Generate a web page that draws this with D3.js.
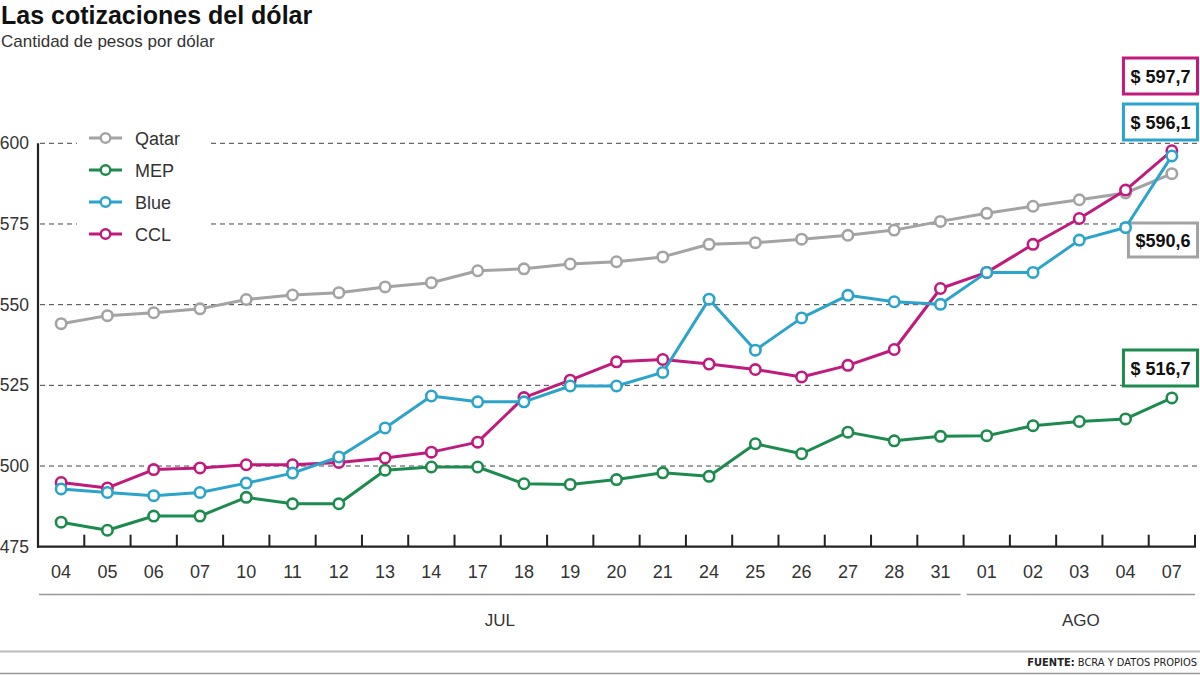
<!DOCTYPE html>
<html><head><meta charset="utf-8">
<script src="https://cdn.jsdelivr.net/npm/d3@7"></script>
<style>
html,body{margin:0;padding:0;background:#fff;overflow:hidden;}
svg{display:block;font-family:"Liberation Sans",Arial,sans-serif;}
</style></head>
<body>
<svg id="chart" width="1200" height="675"></svg>
<script>
// ---- data ----
const days = ["04","05","06","07","10","11","12","13","14","17","18","19","20","21","24","25","26","27","28","31","01","02","03","04","07"];
const months = ["JUL","JUL","JUL","JUL","JUL","JUL","JUL","JUL","JUL","JUL","JUL","JUL","JUL","JUL","JUL","JUL","JUL","JUL","JUL","JUL","AGO","AGO","AGO","AGO","AGO"];
const qatar = [544.1,546.6,547.5,548.7,551.6,553.0,553.7,555.5,556.8,560.5,561.1,562.6,563.3,564.8,568.7,569.2,570.3,571.5,573.1,575.8,578.3,580.5,582.5,584.6,590.6];
const mep   = [482.6,480.1,484.5,484.5,490.3,488.3,488.3,498.7,499.7,499.7,494.5,494.3,495.8,497.9,496.8,506.9,503.8,510.5,507.8,509.2,509.4,512.5,513.8,514.6,521.1];
const blue  = [492.9,491.8,490.8,491.8,494.7,497.8,502.8,511.8,521.7,519.9,519.9,524.8,524.8,529.0,551.7,535.9,545.9,552.9,550.9,550.1,560.0,560.0,570.0,573.9,596.1];
const ccl   = [494.9,493.2,498.9,499.4,500.4,500.4,501.1,502.5,504.3,507.4,521.2,526.6,532.3,533.0,531.6,529.9,527.6,531.2,536.1,555.0,560.0,568.7,576.7,585.5,597.7];
const seriesNames = ["Qatar","MEP","Blue","CCL"];
const seriesColors = ["#a3a3a3","#1d8b4d","#2ba4cb","#c01a7c"];
const yTicks = [475,500,525,550,575,600];
const yTickLabels = ["475","500","525","550","575","600"];
const endLabels = ["$590,6","$ 516,7","$ 596,1","$ 597,7"];
const title = "Las cotizaciones del dólar";
const subtitle = "Cantidad de pesos por dólar";
const source = "BCRA Y DATOS PROPIOS";

// ---- layout ----
const svg = d3.select("#chart");
const pLeft = 38, pRight = 1195, pTop = 143.3, pBottom = 546.7;
const idx = days.map((d,i)=>i);
const x = d3.scalePoint().domain(idx).range([pLeft,pRight]).padding(0.5);
const step = x.step();
const y = d3.scaleLinear().domain([475,600]).range([pBottom,pTop]);

// title
svg.append("text").attr("x",1).attr("y",24).attr("font-size",25).attr("font-weight","bold").attr("fill","#111").text(title);
svg.append("text").attr("x",1).attr("y",47).attr("font-size",17).attr("fill","#333").text(subtitle);

// gridlines
svg.append("g").selectAll("line").data(yTicks.filter(v=>v>475)).join("line")
  .attr("x1",pLeft+2).attr("x2",1200).attr("y1",d=>y(d)).attr("y2",d=>y(d))
  .attr("stroke","#444").attr("stroke-width",1).attr("stroke-dasharray","5,4");

// y labels
svg.append("g").selectAll("text").data(yTicks).join("text")
  .attr("x",29).attr("y",d=>y(d)+6).attr("text-anchor","end").attr("font-size",17.5).attr("fill","#333")
  .text((d,i)=>yTickLabels[i]);

// axes
svg.append("line").attr("x1",pLeft).attr("x2",pLeft).attr("y1",pTop).attr("y2",pBottom+1).attr("stroke","#222").attr("stroke-width",2.2);
svg.append("line").attr("x1",pLeft-1).attr("x2",pRight+1).attr("y1",pBottom).attr("y2",pBottom).attr("stroke","#222").attr("stroke-width",2.2);
const tickXs = idx.map(i=>x(i)+step/2);
svg.append("g").selectAll("line").data(tickXs).join("line")
  .attr("x1",d=>d).attr("x2",d=>d).attr("y1",pBottom).attr("y2",pBottom-12)
  .attr("stroke","#222").attr("stroke-width",2);

// x labels
svg.append("g").selectAll("text").data(idx).join("text")
  .attr("x",i=>x(i)).attr("y",578).attr("text-anchor","middle").attr("font-size",18).attr("fill","#333")
  .text(i=>days[i]);

// month groups
const monthGroups = d3.groups(idx, i=>months[i]);
monthGroups.forEach(([m,list],k)=>{
  const x0 = x(list[0]) - step/2 + (k===0?1:3);
  const x1 = x(list[list.length-1]) + step/2 - (k===monthGroups.length-1?0:3);
  svg.append("line").attr("x1",x0).attr("x2",x1).attr("y1",594.5).attr("y2",594.5).attr("stroke","#999").attr("stroke-width",1.5);
  svg.append("text").attr("x",(x0+x1)/2).attr("y",626).attr("text-anchor","middle").attr("font-size",17).attr("fill","#333").text(m);
});

// footer
svg.append("line").attr("x1",0).attr("x2",1200).attr("y1",651.5).attr("y2",651.5).attr("stroke","#bbb").attr("stroke-width",2);
svg.append("line").attr("x1",0).attr("x2",1200).attr("y1",673.5).attr("y2",673.5).attr("stroke","#999").attr("stroke-width",1.5);
const ft = svg.append("text").attr("x",1197).attr("y",666).attr("text-anchor","end").attr("font-size",11).attr("fill","#222")
  .attr("font-family","'Liberation Sans Narrow','DejaVu Sans Condensed',sans-serif");
ft.append("tspan").attr("font-weight","bold").text("FUENTE:");
ft.append("tspan").text(" "+source);

// end labels (boxes), right edge kept inside the picture; drawn under the series
const boxes = [
  {s:3, y:58,  h:36},
  {s:2, y:104, h:36},
  {s:0, y:223, h:34},
  {s:1, y:350, h:36}
];
const boxRight = 1197.5;
boxes.forEach(b=>{
  const g = svg.append("g");
  const r = g.append("rect");
  const t = g.append("text").attr("y",b.y+b.h/2+6.5).attr("font-size",18).attr("font-weight","bold").attr("fill","#111")
    .text(endLabels[b.s]);
  const w = t.node().getComputedTextLength();
  const pad = 7;
  const bx = boxRight - w - 2*pad;
  t.attr("x",bx+pad);
  r.attr("x",bx).attr("y",b.y).attr("width",w+2*pad).attr("height",b.h)
    .attr("fill","#fff").attr("stroke",seriesColors[b.s]).attr("stroke-width",3);
});

// series
const seriesData = [qatar, mep, blue, ccl];
const drawOrder = [0,1,3,2];
const line = d3.line().x((d,i)=>x(i)).y(d=>y(d));
drawOrder.forEach(s=>{
  const g = svg.append("g");
  g.append("path").datum(seriesData[s]).attr("d",line).attr("fill","none")
    .attr("stroke",seriesColors[s]).attr("stroke-width",3).attr("stroke-linejoin","round");
  g.selectAll("circle").data(seriesData[s]).join("circle")
    .attr("cx",(d,i)=>x(i)).attr("cy",d=>y(d)).attr("r",5.2)
    .attr("fill","#fff").attr("stroke",seriesColors[s]).attr("stroke-width",2.6);
});

// legend
svg.append("rect").attr("x",77).attr("y",126).attr("width",133).attr("height",120).attr("fill","#fff");
seriesNames.forEach((n,k)=>{
  const cy = 138 + k*32;
  svg.append("line").attr("x1",89).attr("x2",122).attr("y1",cy).attr("y2",cy).attr("stroke",seriesColors[k]).attr("stroke-width",3);
  svg.append("circle").attr("cx",105.5).attr("cy",cy).attr("r",4.8).attr("fill","#fff").attr("stroke",seriesColors[k]).attr("stroke-width",2.4);
  svg.append("text").attr("x",135).attr("y",cy+6.5).attr("font-size",18).attr("fill","#333").text(n);
});
</script>
</body></html>
